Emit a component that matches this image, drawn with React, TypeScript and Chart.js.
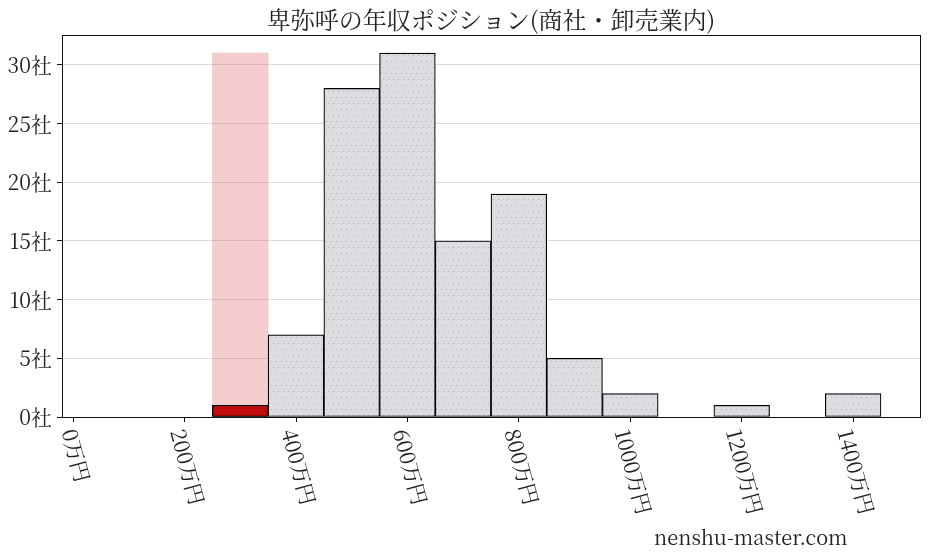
import { useEffect, useRef } from "react";
import { Chart, registerables } from "chart.js";

Chart.register(...registerables);

const FONT = "'Noto Serif CJK JP', 'Liberation Serif', 'Noto Sans CJK JP', serif";

// histogram bins (centre of each 100万円 bin) and company counts
const binCenters = [100, 200, 300, 400, 500, 600, 700, 800, 900, 1000, 1100, 1200, 1300, 1400];
const companyCounts = [0, 0, 1, 7, 28, 31, 15, 19, 5, 2, 0, 1, 0, 2];

// the bin this company falls in
const ownBin = [300];
const ownCount = [1];
const highlightHeight = [31];

const xTickValues = [0, 200, 400, 600, 800, 1000, 1200, 1400];
const yTickValues = [0, 5, 10, 15, 20, 25, 30];

const X_ROTATION = 75;

const makeDotPattern = () => {
  const tile = document.createElement("canvas");
  tile.width = 10;
  tile.height = 12;
  const t = tile.getContext("2d")!;
  t.fillStyle = "#dcdde0";
  t.fillRect(0, 0, 10, 12);
  t.fillStyle = "#b3b4b7";
  t.fillRect(1, 1, 1, 1);
  t.fillRect(6, 1, 1, 1);
  t.fillRect(3, 7, 1, 1);
  t.fillRect(8, 7, 1, 1);
  return t.createPattern(tile, "repeat")!;
};

// spines on all four sides + rotated x labels
const framePlugin = {
  id: "frame",
  afterDatasetsDraw(chart: Chart) {
    const { ctx, chartArea } = chart;
    ctx.save();
    ctx.strokeStyle = "#111";
    ctx.lineWidth = 1;
    ctx.strokeRect(
      Math.round(chartArea.left) + 0.5,
      Math.round(chartArea.top) + 0.5,
      Math.round(chartArea.right - chartArea.left),
      Math.round(chartArea.bottom - chartArea.top)
    );
    ctx.restore();
  },
  afterDraw(chart: Chart) {
    const { ctx, chartArea } = chart;
    const xs = chart.scales.x;
    const a = (X_ROTATION * Math.PI) / 180;
    const s = Math.sin(a);
    const c = Math.cos(a);
    ctx.save();
    ctx.font = `21px ${FONT}`;
    ctx.fillStyle = "#222";
    ctx.textAlign = "center";
    ctx.textBaseline = "middle";
    xTickValues.forEach((v) => {
      const label = `${v}万円`;
      const w = ctx.measureText(label).width;
      const h = 19;
      const H = w * s + h * c;
      const px = xs.getPixelForValue(v) + 3;
      const py = chartArea.bottom + 10 + H / 2;
      ctx.save();
      ctx.translate(px, py);
      ctx.rotate(a);
      ctx.fillText(label, 0, 0);
      ctx.restore();
    });
    ctx.restore();
  },
};

const App = () => {
  const canvasRef = useRef<HTMLCanvasElement>(null);
  const chartRef = useRef<Chart | null>(null);

  useEffect(() => {
    if (!canvasRef.current) return;
    if (chartRef.current) chartRef.current.destroy();

    const grayFill = makeDotPattern();

    chartRef.current = new Chart(canvasRef.current, {
      type: "bar",
      data: {
        datasets: [
          {
            label: "own",
            data: ownBin.map((x, i) => ({ x, y: ownCount[i] })),
            backgroundColor: "#c00c0c",
            borderColor: "#000",
            borderWidth: 1.2,
            borderSkipped: false,
            grouped: false,
            barPercentage: 1,
            categoryPercentage: 1,
          },
          {
            label: "companies",
            data: binCenters.map((x, i) => ({ x, y: companyCounts[i] })),
            backgroundColor: grayFill,
            borderColor: "#000",
            borderWidth: 1.2,
            borderSkipped: false,
            grouped: false,
            barPercentage: 1,
            categoryPercentage: 1,
          },
          {
            label: "highlight",
            data: ownBin.map((x, i) => ({ x, y: highlightHeight[i] })),
            backgroundColor: "rgba(214, 90, 90, 0.3)",
            borderWidth: 0,
            grouped: false,
            barPercentage: 1,
            categoryPercentage: 1,
          },
        ],
      },
      options: {
        animation: false,
        responsive: true,
        maintainAspectRatio: false,
        layout: { padding: { left: 0, right: 8, top: 35, bottom: 0 } },
        plugins: {
          legend: { display: false },
          title: { display: false },
          tooltip: { enabled: false },
        },
        scales: {
          x: {
            type: "linear",
            min: -20,
            max: 1520,
            offset: false,
            afterBuildTicks: (scale: any) => {
              scale.ticks = xTickValues.map((value) => ({ value }));
            },
            afterFit: (scale: any) => {
              scale.height = 140;
            },
            grid: {
              display: true,
              offset: false,
              drawOnChartArea: false,
              drawTicks: true,
              tickLength: 5,
              tickColor: "#111",
            },
            border: { display: false },
            ticks: { display: false },
          },
          y: {
            min: 0,
            max: 32.55,
            afterBuildTicks: (scale: any) => {
              scale.ticks = yTickValues.map((value) => ({ value }));
            },
            afterFit: (scale: any) => {
              scale.width = 62;
            },
            grid: {
              color: "#dcdcdc",
              lineWidth: 1,
              tickColor: "#111",
              tickLength: 5,
            },
            border: { display: false },
            ticks: {
              padding: 5,
              color: "#222",
              font: { family: FONT, size: 21 },
              callback: (value: any) => `${value}社`,
            },
          },
        },
      },
      plugins: [framePlugin],
    });

    return () => {
      if (chartRef.current) {
        chartRef.current.destroy();
        chartRef.current = null;
      }
    };
  }, []);

  return (
    <div style={{ position: "absolute", left: 0, top: 0, width: 928, height: 557, background: "#fff" }}>
      <canvas ref={canvasRef}></canvas>
      <div
        style={{
          position: "absolute",
          left: 62,
          width: 858,
          top: 7,
          textAlign: "center",
          fontFamily: FONT,
          fontSize: 24,
          lineHeight: "24px",
          color: "#222",
        }}
      >
        卑弥呼の年収ポジション(商社・卸売業内)
      </div>
      <div
        style={{
          position: "absolute",
          left: 654,
          top: 527,
          fontFamily: FONT,
          fontSize: 20,
          lineHeight: "20px",
          color: "#222",
        }}
      >
        nenshu-master.com
      </div>
    </div>
  );
};

export default App;
